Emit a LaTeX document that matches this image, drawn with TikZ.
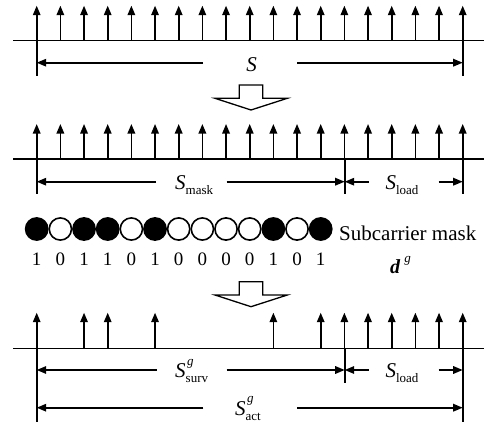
\documentclass[tikz,border=0pt]{standalone}
\usepackage{fontspec}
\setmainfont{Liberation Serif}
\usetikzlibrary{arrows.meta}
\tikzset{
  ln/.style={line width=1.6pt},
  tip/.style={ln,-{Triangle[length=9.5pt,width=7.5pt]}},
  blk/.style={line width=1.3pt, fill=white, line join=miter},
  big/.style={inner sep=0pt, font=\fontsize{21}{21}\selectfont},
  dig/.style={inner sep=0pt, anchor=base, font=\fontsize{19}{19}\selectfont},
  mk/.style={line width=1.6pt, draw=black, circle, minimum size=22.2pt, inner sep=0pt},
}
\newcommand\SubLab[1]{\textit{S}\raisebox{-5pt}{\fontsize{13}{13}\selectfont #1}}
\newcommand\SupSubLab[2]{\textit{S}\makebox[0pt][l]{\hspace{1.5pt}\raisebox{12.5pt}{\fontsize{13}{13}\selectfont\textit{#1}}}\raisebox{-5pt}{\fontsize{13}{13}\selectfont #2}}
\begin{document}
\begin{tikzpicture}[x=1pt,y=-1pt]
\useasboundingbox (0,0) rectangle (484,428);
\def\dx{23.667}
% ---------- Row 1 ----------
\draw[ln] (13,40.7) -- (484,40.7);
\foreach \i in {0,...,18}{
  \draw[tip] (36.7+\i*\dx,40.7) -- (36.7+\i*\dx,5.7);
}
\coordinate (a1L) at (36.7,76);
\coordinate (a1R) at (462.7,76);
\draw[ln] (36.7,40.7) -- (a1L);
\draw[ln] (462.7,40.7) -- (a1R);
\node[big,anchor=base] (lS) at (251.5,71.7) {\textit{S}};
\draw[tip] (203,62.7) -- (36.7,62.7);
\draw[tip] (297,62.7) -- (462.7,62.7);
% block arrow 1
\draw[blk] (239.3,85) -- (262.7,85) -- (262.7,98.3) -- (287.3,98.3) -- (251,110) -- (215,98.3) -- (239.3,98.3) -- cycle;
% ---------- Row 2 ----------
\draw[ln] (13,159) -- (484,159);
\foreach \i in {0,...,18}{
  \draw[tip] (36.7+\i*\dx,159) -- (36.7+\i*\dx,124);
}
\draw[ln] (36.7,159) -- (36.7,194.3);
\draw[ln] (344.7,159) -- (344.7,194.3);
\draw[ln] (462.7,159) -- (462.7,194.3);
\node[big,anchor=base west] (lSmask) at (175,189.3) {\SubLab{mask}};
\node[big,anchor=base west] (lSload) at (385.3,189.3) {\SubLab{load}};
\draw[tip] (156,181.7) -- (36.7,181.7);
\draw[tip] (226.7,181.7) -- (344.7,181.7);
\draw[tip] (368.7,181.7) -- (344.7,181.7);
\draw[tip] (438.7,181.7) -- (462.7,181.7);
% ---------- Mask ----------
\foreach \b [count=\k from 0] in {1,0,1,1,0,1,0,0,0,0,1,0,1}{
  \ifnum\b=1
    \node[mk,fill=black] (c\k) at (36.7+\k*\dx,229) {};
  \else
    \node[mk,fill=white] (c\k) at (36.7+\k*\dx,229) {};
  \fi
  \node[dig] (d\k) at (36.7+\k*\dx,265) {\b};
}
\node[big,anchor=base west] (lmask) at (339,240) {Subcarrier mask};
\node[inner sep=0pt,anchor=base west,font=\fontsize{20}{20}\selectfont] (ldg) at (390,273) {\textbf{\textit{d}}\hspace{4pt}\raisebox{11pt}{\fontsize{13}{13}\selectfont\textit{g}}};
% block arrow 2
\draw[blk] (239.3,281.7) -- (262.7,281.7) -- (262.7,295) -- (287.3,295) -- (251,306.7) -- (215,295) -- (239.3,295) -- cycle;
% ---------- Row 3 ----------
\draw[ln] (13,348.3) -- (484,348.3);
\foreach \i in {0,2,3,5,10,12,13,14,15,16,17,18}{
  \draw[tip] (36.7+\i*\dx,348.3) -- (36.7+\i*\dx,312.7);
}
\draw[ln] (36.7,348.3) -- (36.7,421.7);
\draw[ln] (344.7,348.3) -- (344.7,383.3);
\draw[ln] (462.7,348.3) -- (462.7,421.7);
\node[big,anchor=base west] (lSsurv) at (175,377.8) {\SupSubLab{g}{surv}};
\node[big,anchor=base west] (lSload2) at (385.3,377.8) {\SubLab{load}};
\draw[tip] (156.7,370) -- (36.7,370);
\draw[tip] (226.7,370) -- (344.7,370);
\draw[tip] (368.7,370) -- (344.7,370);
\draw[tip] (438.7,370) -- (462.7,370);
\node[big,anchor=base west] (lSact) at (235,415) {\SupSubLab{g}{act}};
\draw[tip] (203.3,407.7) -- (36.7,407.7);
\draw[tip] (297,407.7) -- (462.7,407.7);
\end{tikzpicture}
\end{document}
